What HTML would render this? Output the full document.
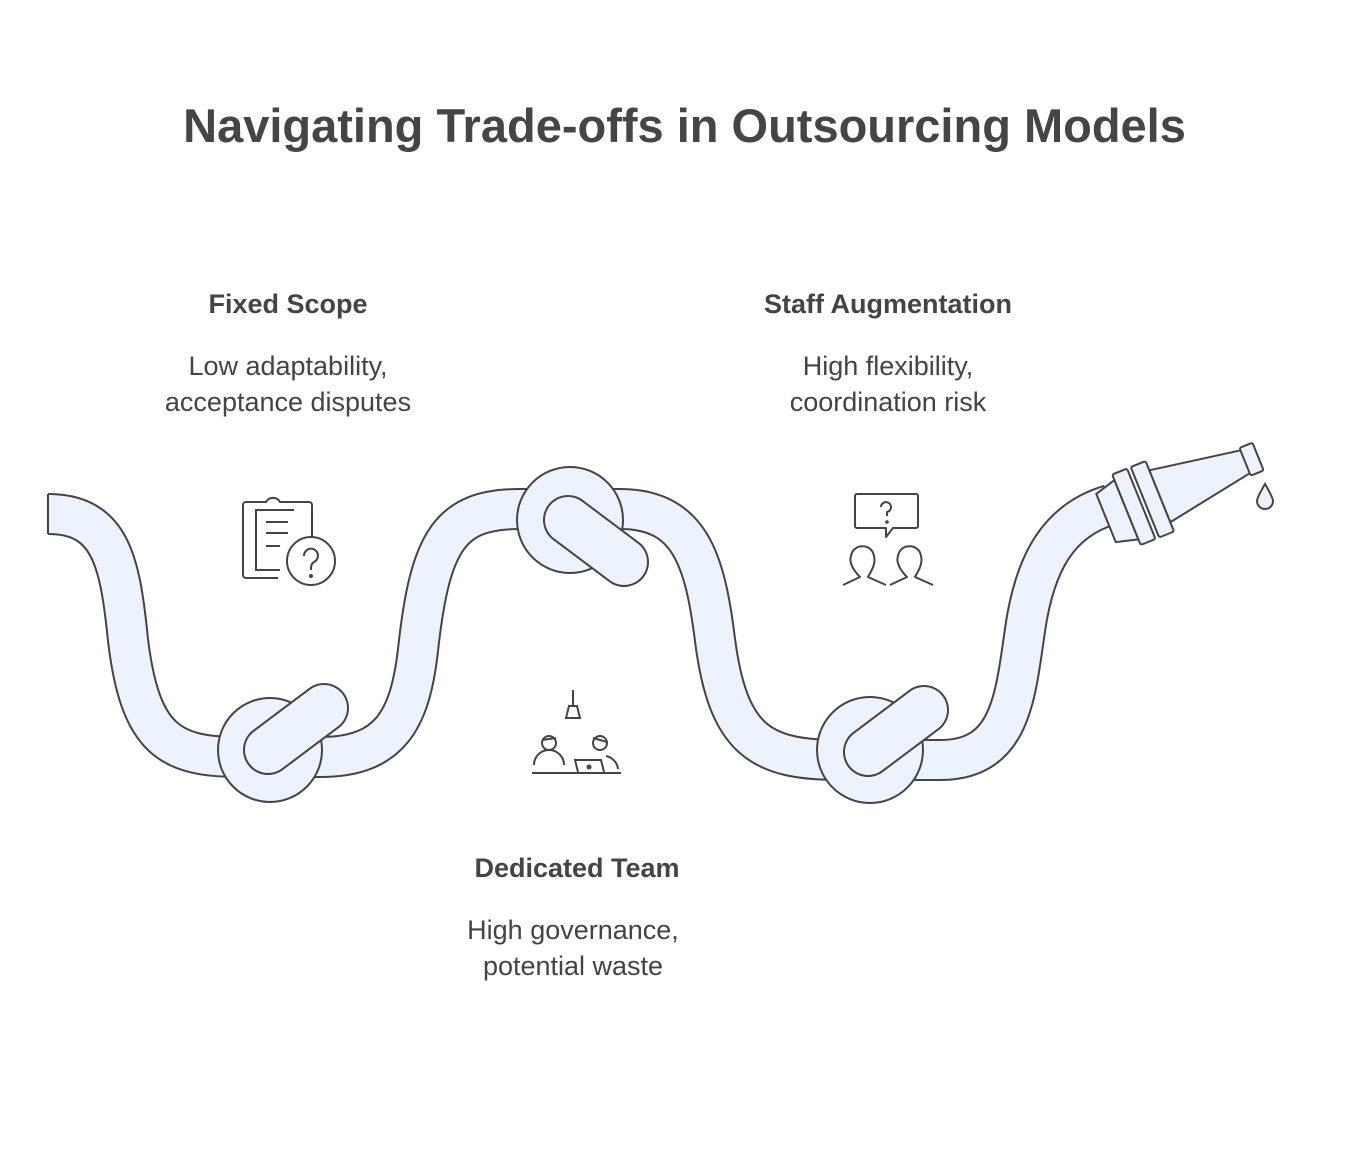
<!DOCTYPE html>
<html><head><meta charset="utf-8"><style>
body{margin:0;background:#fff;width:1369px;height:1164px;overflow:hidden;font-family:"Liberation Sans",sans-serif;color:#444}
.t{position:absolute;text-align:center;white-space:nowrap}
</style></head><body>
<div class="t" style="left:0;width:1369px;top:98px;font-size:47px;font-weight:bold;color:#454545">Navigating Trade-offs in Outsourcing Models</div>
<div class="t" style="left:88px;width:400px;top:289px;font-size:27px;font-weight:bold">Fixed Scope</div>
<div class="t" style="left:88px;width:400px;top:348px;font-size:27px;line-height:36px">Low adaptability,<br>acceptance disputes</div>
<div class="t" style="left:688px;width:400px;top:289px;font-size:27px;font-weight:bold">Staff Augmentation</div>
<div class="t" style="left:688px;width:400px;top:348px;font-size:27px;line-height:36px">High flexibility,<br>coordination risk</div>
<div class="t" style="left:377px;width:400px;top:853px;font-size:27px;font-weight:bold">Dedicated Team</div>
<div class="t" style="left:373px;width:400px;top:912px;font-size:27px;line-height:36px">High governance,<br>potential waste</div>
<svg width="1369" height="1164" style="position:absolute;left:0;top:0" fill="none" stroke-linecap="butt">
<g>
<path d="M48,514 C110,514 120,560 128,640 C140,740 170,757 240,757 L320,757 C390,757 410,720 418,650 C430,540 450,509 520,509 L620,509 C690,509 705,560 715,640 C728,740 760,760 840,760 L940,760 C1010,760 1015,700 1025,630 C1035,560 1060,520 1110,505" stroke="#444" stroke-width="42"/>
<path d="M48,514 C110,514 120,560 128,640 C140,740 170,757 240,757 L320,757 C390,757 410,720 418,650 C430,540 450,509 520,509 L620,509 C690,509 705,560 715,640 C728,740 760,760 840,760 L940,760 C1010,760 1015,700 1025,630 C1035,560 1060,520 1110,505" stroke="#ecf2fe" stroke-width="38"/>
<rect x="46" y="495" width="6" height="38" fill="#ecf2fe"/>
<line x1="48" y1="494" x2="48" y2="534" stroke="#444" stroke-width="2"/>
</g>
<g stroke="#444" stroke-width="2" fill="#ecf2fe">
<circle cx="270" cy="750" r="52"/>
<circle cx="570" cy="520" r="53"/>
<circle cx="870" cy="750" r="53"/>
</g>
<g stroke-linecap="round">
<line x1="268" y1="750" x2="324" y2="708" stroke="#444" stroke-width="50"/>
<line x1="268" y1="750" x2="324" y2="708" stroke="#ecf2fe" stroke-width="46"/>
<line x1="568" y1="520" x2="624" y2="562" stroke="#444" stroke-width="50"/>
<line x1="568" y1="520" x2="624" y2="562" stroke="#ecf2fe" stroke-width="46"/>
<line x1="868" y1="752" x2="924" y2="710" stroke="#444" stroke-width="50"/>
<line x1="868" y1="752" x2="924" y2="710" stroke="#ecf2fe" stroke-width="46"/>
</g>
<g transform="translate(1106,518) rotate(-22)" stroke="#444" stroke-width="2" fill="#ecf2fe" stroke-linejoin="round">
<polygon points="0,-26 22,-32 22,32 0,26"/>
<polygon points="58,-28 152,-12 152,12 58,28"/>
<rect x="22" y="-38" width="16" height="76" rx="2"/>
<rect x="42" y="-38" width="16" height="76" rx="2"/>
<rect x="150" y="-15" width="14" height="30" rx="2"/>
</g>
<path d="M1265,484 C1258,496 1257,500 1257,501 A8,8 0 0 0 1273,501 C1273,500 1272,496 1265,484Z" stroke="#444" stroke-width="2" fill="#ecf2fe"/>
<g stroke="#444" stroke-width="2" fill="none">
<path d="M278,578 H246 a3,3 0 0 1 -3,-3 V505 a3,3 0 0 1 3,-3 H266 a8,8 0 0 1 14,0 H309 a3,3 0 0 1 3,3 V538"/>
<path d="M294,510 H256 V570 H280"/>
<line x1="266" y1="522" x2="288" y2="522"/><line x1="266" y1="533" x2="288" y2="533"/><line x1="266" y1="546" x2="280" y2="546"/>
<circle cx="311" cy="561" r="24"/>
<path d="M304,556 a7,7 0 1 1 10,6 c-3,2 -3,4 -3,8"/>
<circle cx="311" cy="576" r="1" fill="#444"/>
</g>
<g stroke="#444" stroke-width="2" fill="none">
<line x1="573" y1="690" x2="573" y2="706"/>
<path d="M569,706 H577 L580,718 H566 Z"/>
<circle cx="549" cy="743" r="7"/><path d="M542,740 L556,738"/>
<circle cx="600" cy="743" r="7"/><path d="M593,738 L607,742"/>
<path d="M534,765 a15,15 0 0 1 30,0"/>
<path d="M606,756 a15,15 0 0 1 12,13"/>
<path d="M578,772 L575,760 H601 L604,772"/>
<circle cx="589" cy="767" r="1.5" fill="#444"/>
<line x1="532" y1="773" x2="621" y2="773"/>
</g>
<g stroke="#444" stroke-width="2" fill="none" stroke-linejoin="round">
<path d="M857,494 H916 a2,2 0 0 1 2,2 V526 a2,2 0 0 1 -2,2 H893 L886,537 V528 H857 a2,2 0 0 1 -2,-2 V496 a2,2 0 0 1 2,-2Z"/>
<path d="M881,507 a5,5 0 1 1 6,5 v4"/><circle cx="887" cy="522" r="0.8" fill="#444"/>
<path d="M843,585 L860,577 C852,569 849,561 851,556 C853,543 872,543 874,556 C876,563 872,570 868,577 L886,585"/>
<path d="M890,585 L907,577 C899,569 896,561 898,556 C900,543 919,543 921,556 C923,563 919,570 915,577 L933,585"/>
</g>
</svg>
</body></html>
